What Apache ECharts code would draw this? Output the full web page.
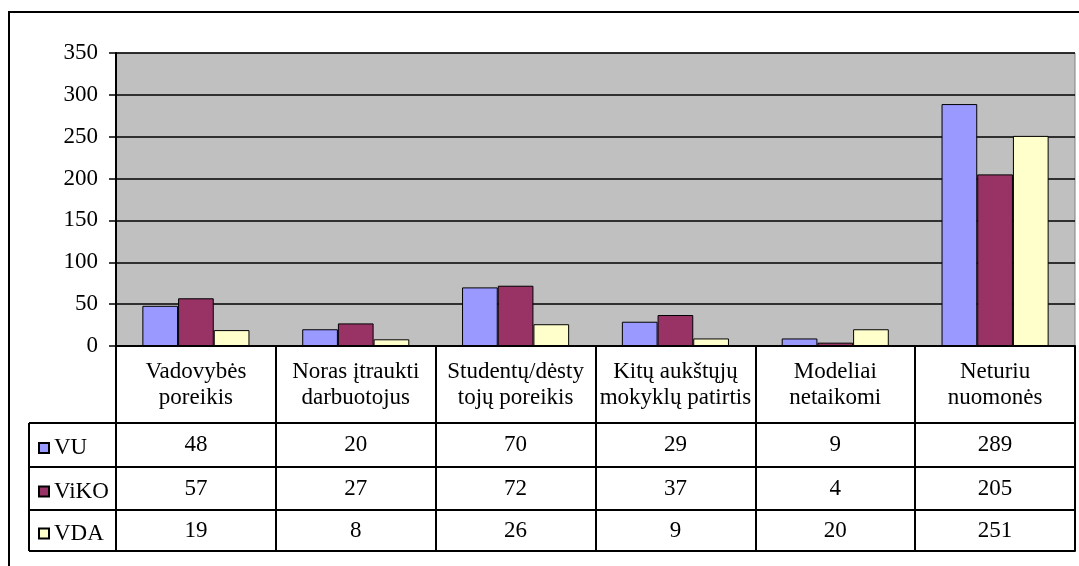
<!DOCTYPE html>
<html>
<head>
<meta charset="utf-8">
<script src="https://cdn.jsdelivr.net/npm/echarts@6/dist/echarts.min.js"></script>
<style>
  html, body { margin: 0; padding: 0; background: #fff; }
  #container { width: 1079px; height: 566px; }
</style>
</head>
<body>
<div id="container"></div>
<script>
var categories = ['Vadovybės\nporeikis', 'Noras įtraukti\ndarbuotojus', 'Studentų/dėsty\ntojų poreikis', 'Kitų aukštųjų\nmokyklų patirtis', 'Modeliai\nnetaikomi', 'Neturiu\nnuomonės'];
var seriesNames = ['VU', 'ViKO', 'VDA'];
var vuData = [48, 20, 70, 29, 9, 289];
var vikoData = [57, 27, 72, 37, 4, 205];
var vdaData = [19, 8, 26, 9, 20, 251];
var seriesColors = ['#9999FF', '#993366', '#FFFFCC'];

var font = "'Liberation Serif', 'Times New Roman', serif";
var fontSize = 23;
var gridLeft = 116, gridRight = 4, gridTop = 53, gridBottom = 220;
var chartH = 566;
var axisY = chartH - gridBottom;           // 346
var rowOffsets = [77, 121, 164, 205];      // table row borders below the axis
var rowHeights = [44, 43, 41];
var legendLeft = 29;

var dom = document.getElementById('container');
var myChart = echarts.init(dom);

var allData = [vuData, vikoData, vdaData];

var xAxes = [{
    type: 'category',
    data: categories,
    position: 'bottom',
    axisLine: {lineStyle: {color: '#000', width: 2}},
    axisTick: {show: true, interval: 0, length: rowOffsets[0], lineStyle: {color: '#000', width: 2}},
    axisLabel: {interval: 0, margin: 13, fontFamily: font, fontSize: fontSize, lineHeight: 26, color: '#000'}
}];
for (var i = 0; i < 3; i++) {
    (function (k) {
        xAxes.push({
            type: 'category',
            data: categories,
            position: 'bottom',
            offset: rowOffsets[k],
            axisLine: {lineStyle: {color: '#000', width: 2}},
            axisTick: {show: true, interval: 0, length: rowHeights[k], lineStyle: {color: '#000', width: 2}},
            axisLabel: {
                interval: 0, margin: Math.round(rowHeights[k] / 2 - 13), fontFamily: font, fontSize: fontSize,
                lineHeight: 26, color: '#000',
                formatter: function (v, idx) { return String(allData[k][idx]); }
            }
        });
    })(i);
}
xAxes.push({
    type: 'category',
    data: categories,
    position: 'bottom',
    offset: rowOffsets[3],
    axisLine: {lineStyle: {color: '#000', width: 2}},
    axisTick: {show: false},
    axisLabel: {show: false}
});

var series = seriesNames.map(function (name, k) {
    return {
        name: name,
        type: 'bar',
        data: allData[k],
        barGap: 0,
        barCategoryGap: '33%',
        itemStyle: {color: seriesColors[k], borderColor: '#000', borderWidth: 1}
    };
});

var legends = seriesNames.map(function (name, k) {
    var top = axisY + rowOffsets[k] + rowHeights[k] / 2 - 14;
    return {
        data: [name],
        left: 33,
        top: top,
        icon: 'rect',
        itemWidth: 10,
        itemHeight: 10,
        selectedMode: false,
        textStyle: {fontFamily: font, fontSize: fontSize, color: '#000', lineHeight: 24}
    };
});

var graphics = [{
    type: 'rect',
    shape: {x: 9, y: 12, width: 1200, height: 700},
    style: {fill: 'none', stroke: '#000', lineWidth: 2},
    silent: true
}];
rowOffsets.forEach(function (off) {
    graphics.push({
        type: 'line',
        shape: {x1: legendLeft, y1: axisY + off, x2: gridLeft, y2: axisY + off},
        style: {stroke: '#000', lineWidth: 2}
    });
});
graphics.push({
    type: 'line',
    shape: {x1: legendLeft, y1: axisY + rowOffsets[0], x2: legendLeft, y2: axisY + rowOffsets[3]},
    style: {stroke: '#000', lineWidth: 2}
});

option = {
    animation: false,
    backgroundColor: '#fff',
    grid: {
        left: gridLeft, right: gridRight, top: gridTop, bottom: gridBottom,
        show: true, backgroundColor: '#C0C0C0', borderColor: '#808080', borderWidth: 1
    },
    legend: legends,
    xAxis: xAxes,
    yAxis: {
        type: 'value',
        min: 0,
        max: 350,
        interval: 50,
        axisLine: {show: true, lineStyle: {color: '#000', width: 2}},
        axisTick: {show: true, length: 7, lineStyle: {color: '#000', width: 1.5}},
        axisLabel: {margin: 18, fontFamily: font, fontSize: fontSize, color: '#000'},
        splitLine: {show: true, lineStyle: {color: '#000', width: 1.5}}
    },
    graphic: graphics,
    series: series
};

myChart.setOption(option, true);
</script>
</body>
</html>
